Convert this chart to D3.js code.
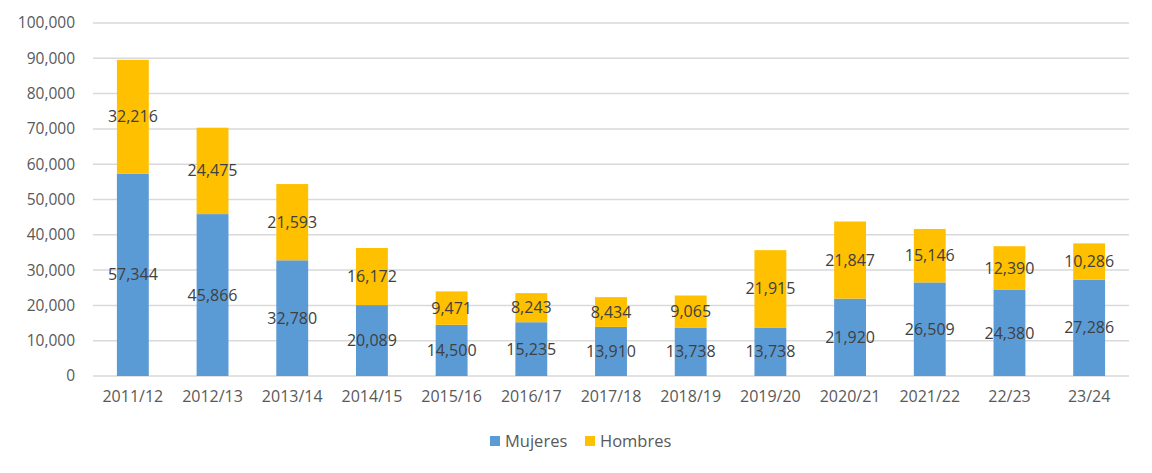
<!DOCTYPE html>
<html>
<head>
<meta charset="utf-8">
<script src="https://cdn.jsdelivr.net/npm/d3@7"></script>
<style>
  body { margin: 0; background: #fff; }
  text { font-family: "Open Sans", "Noto Sans", sans-serif; }
</style>
</head>
<body>
<div id="drawing_region"></div>
<script>
const categories = ["2011/12","2012/13","2013/14","2014/15","2015/16","2016/17","2017/18","2018/19","2019/20","2020/21","2021/22","22/23","23/24"];
const mujeres = [57344, 45866, 32780, 20089, 14500, 15235, 13910, 13738, 13738, 21920, 26509, 24380, 27286];
const hombres = [32216, 24475, 21593, 16172, 9471, 8243, 8434, 9065, 21915, 21847, 15146, 12390, 10286];
const yTicks = [0, 10000, 20000, 30000, 40000, 50000, 60000, 70000, 80000, 90000, 100000];
const seriesNames = ["Mujeres", "Hombres"];
const colors = ["#5B9BD5", "#FFC000"];

const config = {
    width: 1152,
    height: 473,
    margin: {top: 23, right: 23, bottom: 97, left: 93}
};

const svg = d3.select('#drawing_region')
    .append('svg')
    .attr('width', config.width)
    .attr('height', config.height);

const chart = svg.append('g')
    .attr('transform', `translate(${config.margin.left}, ${config.margin.top})`);

const inner_width = config.width - config.margin.left - config.margin.right;
const inner_height = config.height - config.margin.top - config.margin.bottom;

const xscale = d3.scaleBand()
    .domain(categories)
    .range([0, inner_width])
    .paddingInner(0.6)
    .paddingOuter(0.3);

const yscale = d3.scaleLinear()
    .domain([0, 100000])
    .range([inner_height, 0]);

// gridlines
chart.selectAll('line.grid')
    .data(yTicks)
    .join('line')
    .attr('class', 'grid')
    .attr('x1', 0)
    .attr('x2', inner_width)
    .attr('y1', d => yscale(d))
    .attr('y2', d => yscale(d))
    .attr('stroke', '#D9D9D9')
    .attr('stroke-width', 1.5);

// y axis labels
const yaxis = d3.axisLeft(yscale)
    .tickValues(yTicks)
    .tickFormat(d3.format(','))
    .tickSize(0)
    .tickPadding(18);
const yaxis_group = chart.append('g').call(yaxis);
yaxis_group.select('.domain').remove();
yaxis_group.selectAll('text')
    .attr('fill', '#595959')
    .style('font-size', '15.5px');

// x axis labels
const xaxis = d3.axisBottom(xscale)
    .tickSize(0)
    .tickPadding(15);
const xaxis_group = chart.append('g')
    .attr('transform', `translate(0, ${inner_height})`)
    .call(xaxis);
xaxis_group.select('.domain').remove();
xaxis_group.selectAll('text')
    .attr('fill', '#595959')
    .style('font-size', '16px');

// stacked data
const table = categories.map((c, i) => ({label: c, Mujeres: mujeres[i], Hombres: hombres[i]}));
const stacked = d3.stack().keys(seriesNames)(table);

const layers = chart.selectAll('g.layer')
    .data(stacked)
    .join('g')
    .attr('class', 'layer')
    .attr('fill', (d, i) => colors[i]);

layers.selectAll('rect')
    .data(d => d)
    .join('rect')
    .attr('x', d => xscale(d.data.label))
    .attr('y', d => yscale(d[1]))
    .attr('width', xscale.bandwidth())
    .attr('height', d => yscale(d[0]) - yscale(d[1]));

// data labels
stacked.forEach(layer => {
    chart.append('g').selectAll('text')
        .data(layer)
        .join('text')
        .attr('x', d => xscale(d.data.label) + xscale.bandwidth() / 2)
        .attr('y', d => (yscale(d[0]) + yscale(d[1])) / 2)
        .attr('dy', '0.35em')
        .attr('text-anchor', 'middle')
        .attr('fill', '#404040')
        .style('font-size', '16px')
        .text(d => d3.format(',')(d[1] - d[0]));
});

// legend
const legend = svg.append('g')
    .attr('transform', 'translate(490, 441)');
const legendX = [0, 95];
seriesNames.forEach((name, i) => {
    const g = legend.append('g').attr('transform', `translate(${legendX[i]}, 0)`);
    g.append('rect')
        .attr('x', 0).attr('y', -5)
        .attr('width', 10).attr('height', 10)
        .attr('fill', colors[i]);
    g.append('text')
        .attr('x', 15).attr('y', 0)
        .attr('dy', '0.35em')
        .attr('fill', '#595959')
        .style('font-size', '16.5px')
        .text(name);
});
</script>
</body>
</html>
